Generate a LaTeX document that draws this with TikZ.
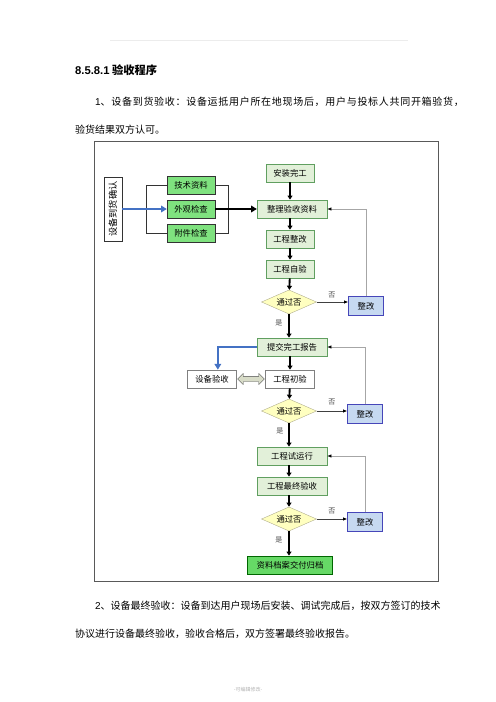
\documentclass[tikz,border=0pt]{standalone}
\usepackage{fontspec}
\setmainfont{Noto Sans CJK SC}
\newfontfamily\arial{Liberation Sans}
\usetikzlibrary{shapes,backgrounds}
\usetikzlibrary{arrows,arrows.meta}
\definecolor{leafgreen}{HTML}{7FE27F}
\definecolor{palegreen}{HTML}{E2F0D9}
\definecolor{paleblue}{HTML}{C6D9F1}
\definecolor{paleyellow}{HTML}{FFFFC0}
\definecolor{endgreen}{HTML}{66D966}
\definecolor{flowblue}{HTML}{4472C4}
\definecolor{dblfill}{HTML}{D8DCC8}

\begin{document}
\begin{tikzpicture}[x=1.2pt,y=-1.2pt,
  txt/.style={anchor=base west,inner sep=0,font=\fontsize{12}{14}\selectfont},
  base/.style={draw,minimum height=22pt,inner sep=1pt,font=\fontsize{10}{11}\selectfont},
  leafbox/.style={base,fill=leafgreen,draw=black!80,minimum width=57.6pt},
  stepbox/.style={base,fill=palegreen,draw=green!25!gray,minimum width=57.6pt},
  widebox/.style={stepbox,minimum width=84pt},
  plainbox/.style={base,fill=white,draw=gray,minimum width=59pt},
  fixbox/.style={base,fill=paleblue,draw=blue!45!gray,minimum width=42pt,minimum height=22.8pt},
  check/.style={diamond,draw=gray!80!yellow,fill=paleyellow,aspect=2.3,inner sep=1pt,
    minimum width=66pt,minimum height=29pt,font=\fontsize{10}{11}\selectfont},
  lbl/.style={inner sep=0,font=\fontsize{8.5}{9}\selectfont,text=black!70},
  flow/.style={line width=2.2pt,-{Triangle[length=5pt,width=6pt]}},
  back/.style={gray!70,line width=0.8pt,-{Latex[black,length=5pt,width=4pt]}},
  nobranch/.style={black!75,line width=1pt,-{Latex[black,length=5pt,width=4pt]}},
  brk/.style={black!80,line width=1.2pt}]
\useasboundingbox (0,0) rectangle (496,702);

\draw[gray!15,line width=1pt] (110,40) -- (408,40);
\node[txt,font=\fontsize{13.5}{15}\selectfont\bfseries] (head) at (75,74) {{\arial 8.5.8.1} 验收程序};
\node[txt] (p1a) at (95,105) {\addfontfeature{LetterSpace=7}{\arial 1}、设备到货验收：设备运抵用户所在地现场后，用户与投标人共同开箱验货，};
\node[txt] (p1b) at (75,133) {验货结果双方认可。};
\node[txt] (p2a) at (95,609) {{\arial 2}、设备最终验收：设备到达用户现场后安装、调试完成后，按双方签订的技术};
\node[txt] (p2b) at (75,637) {协议进行设备最终验收，验收合格后，双方签署最终验收报告。};
\node[inner sep=0,font=\fontsize{6}{7}\selectfont,text=gray!60] (foot) at (248,690) {-可编辑修改-};

\draw[gray!70!black,line width=0.8pt] (94,141) rectangle (438,581);

\node[base,draw=black!80,fill=white,rotate=90,minimum width=77pt,minimum height=21.6pt,
  font=\fontsize{11}{12}\selectfont] (qr) at (113,209) {设备到货确认};
\node[leafbox] (js) at (191,185) {技术资料};
\node[leafbox] (wg) at (191,209) {外观检查};
\node[leafbox] (fj) at (191,233) {附件检查};
\draw[brk] (js.west) -- ++(-20,0) |- (fj.west);
\draw[brk] (js.east) -- ++(13,0) |- (fj.east);
\draw[flowblue,line width=1.8pt,-{Triangle[length=7pt,width=8pt]}] (qr) -- (wg);

\node[stepbox] (az) at (290,173) {安装完工};
\node[widebox] (zl) at (292,209) {整理验收资料};
\node[stepbox] (gczg) at (290,239) {工程整改};
\node[stepbox] (gczy) at (290,269) {工程自验};
\node[check] (pd1) at (289,302) {通过否};
\node[fixbox] (zg1) at (366,306) {整改};
\node[widebox] (tj) at (292,347) {提交完工报告};
\node[plainbox] (sbys) at (212,379) {设备验收};
\node[plainbox] (gccy) at (290,379) {工程初验};
\node[double arrow,draw=gray!60!black,fill=dblfill,inner sep=3pt,double arrow head extend=3.5pt,
  minimum height=32pt] (dbl) at (251,379) {};
\node[check] (pd2) at (289,411) {通过否};
\node[fixbox] (zg2) at (365,414) {整改};
\node[widebox] (sy) at (292,456) {工程试运行};
\node[widebox] (zz) at (292,486) {工程最终验收};
\node[check] (pd3) at (289,519) {通过否};
\node[fixbox] (zg3) at (365,522) {整改};
\node[base,fill=endgreen,draw=green!40!black,minimum width=102pt] (gd) at (290,565) {资料档案交付归档};

\draw[line width=2.6pt,-{Triangle[length=7pt,width=8pt]}] (wg) -- (zl);
\draw[flow] (az) -- (az |- zl.north);
\draw[flow] (gczg |- zl.south) -- (gczg);
\draw[flow] (gczg) -- (gczy);
\draw[flow] (gczy) -- (pd1);
\draw[flow] (pd1) -- (pd1 |- tj.north);
\draw[flow] (gccy |- tj.south) -- (gccy);
\draw[flow] (gccy) -- (pd2);
\draw[flow] (pd2) -- (pd2 |- sy.north);
\draw[flow] (pd2 |- sy.south) -- (pd2 |- zz.north);
\draw[flow] (pd3 |- zz.south) -- (pd3);
\draw[flow] (pd3) -- (pd3 |- gd.north);

\draw[nobranch] (pd1.east) -- (pd1.east -| zg1.west);
\draw[nobranch] (pd2.east) -- (pd2.east -| zg2.west);
\draw[nobranch] (pd3.east) -- (pd3.east -| zg3.west);
\draw[back] (zg1.north) |- (zl.east);
\draw[back] (zg2.north) |- (tj.east);
\draw[back] (zg3.north) |- (sy.east);
\draw[flowblue,line width=1.8pt,-{Triangle[length=7pt,width=8pt]}] (tj.west) -| ([xshift=7pt]sbys.north);

\node[lbl] (no1) at (332,295) {否};
\node[lbl] (no2) at (332,402) {否};
\node[lbl] (no3) at (332,511) {否};
\node[lbl] (yes1) at (279,323) {是};
\node[lbl] (yes2) at (280,431) {是};
\node[lbl] (yes3) at (279,540) {是};
\end{tikzpicture}
\end{document}
